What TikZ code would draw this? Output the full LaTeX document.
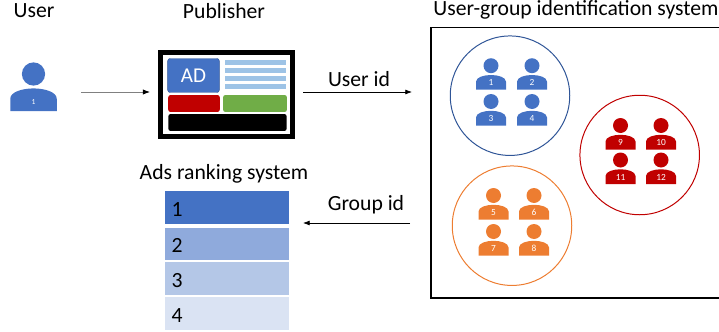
\documentclass[tikz,border=0pt]{standalone}
\usepackage{fontspec}
\setmainfont{Carlito}
\usetikzlibrary{arrows.meta}
\definecolor{adblue}{HTML}{4472C4}
\definecolor{adred}{HTML}{C00000}
\definecolor{adgreen}{HTML}{70AD47}
\definecolor{adorange}{HTML}{ED7D31}
\definecolor{adline}{HTML}{9DC3E6}
\definecolor{rowb}{HTML}{8FAADC}
\definecolor{rowc}{HTML}{B4C7E7}
\definecolor{rowd}{HTML}{DAE3F3}
\definecolor{ringblue}{HTML}{2F5597}
\tikzset{
	title/.style={font=\fontsize{18.5}{22}\selectfont, inner sep=0pt},
	person/.pic={
		\fill (0,0) circle (7.5);
		\fill (-15,24)--(-15,16) .. controls (-15,11.5) and (-7,9.3) .. (0,9.3) .. controls (7,9.3) and (15,11.5) .. (15,16)--(15,24)--cycle;
	},
	num/.style={text=white, font=\fontsize{8}{10}\selectfont, inner sep=0pt},
	ring/.style={circle, draw, line width=0.85pt, minimum size=102pt, inner sep=0pt},
	bar/.style={rectangle, rounded corners=2pt, inner sep=0pt},
	row/.style={rectangle, minimum width=105.4pt, inner sep=0pt, anchor=north west, text height=15pt, text depth=0pt, font=\fontsize{18.5}{22}\selectfont, align=left, text width=94.4pt, inner xsep=5.5pt}
}
\begin{document}
\begin{tikzpicture}[x=0.03cm, y=-0.03cm, >=Latex]
	\useasboundingbox (0,0) rectangle (719,332);
	% titles
	\node[title] (usertitle) at (34,11) {User};
	\node[title] (pubtitle) at (224,11) {Publisher};
	\node[title] (systitle) at (576,10) {User-group identification system};
	\node[title] (adstitle) at (224,174) {Ads ranking system};
	% user
	\pic[adblue, scale=1.55] at (33.5,74) {person};
	\node[num, font=\fontsize{6.5}{8}\selectfont] (user) at (33.5,102) {1};
	% publisher page
	\node[draw, line width=4.2pt, minimum width=112pt, minimum height=72pt, inner sep=0pt] (page) at (226.5,94.5) {};
	\node[bar, fill=adblue, draw=ringblue, minimum width=44pt, minimum height=29pt, text=white, font=\fontsize{18}{22}\selectfont] (ad) at (193.5,75.5) {AD};
	\foreach \y [count=\i] in {62.5,70.5,78.5,86.5}
		\node[fill=adline, minimum width=52pt, minimum height=4.2pt, inner sep=0pt] (line\i) at (255.5,\y) {};
	\node[bar, fill=adred, minimum width=44pt, minimum height=14.5pt] (redbar) at (194,103.5) {};
	\node[bar, fill=adgreen, minimum width=54.5pt, minimum height=14.5pt] (greenbar) at (255,103.5) {};
	\node[bar, fill=black, minimum width=101pt, minimum height=14.5pt] (blackbar) at (227.5,122.5) {};
	% connectors
	\coordinate (userout) at (81,92);
	\coordinate (pagein) at (150,92);
	\coordinate (pageout) at (303,92);
	\coordinate (sysin) at (412,92);
	\coordinate (sysout) at (410,223);
	\coordinate (rankin) at (303,223);
	\draw[->, gray, line width=0.7pt, -{Latex[black]}] (userout)--(pagein);
	\draw[->, line width=0.6pt] (pageout)--(sysin);
	\draw[->, line width=0.6pt] (sysout)--(rankin);
	\node[title] (userlabel) at (359,79) {User id};
	\node[title] (grouplabel) at (366,205) {Group id};
	% ranking table
	\node[row, fill=adblue, minimum height=28.2pt] (rowa) at (165,190.7) {1};
	\node[row, fill=rowb, minimum height=27.6pt] (rowb) at (165,227.6) {2};
	\node[row, fill=rowc, minimum height=28.4pt] (rowc) at (165,261.5) {3};
	\node[row, fill=rowd, minimum height=28.4pt] (rowd) at (165,296.5) {4};
	% identification system
	\draw[line width=1.7pt] (719,27.5)--(431,27.5)--(431,298)--(719,298);
	\node[ring, draw=ringblue] (bluering) at (510,95.7) {};
	\node[ring, draw=adred] (redring) at (639.7,155) {};
	\node[ring, draw=adorange] (orangering) at (512,225.7) {};
	\foreach \x/\y/\c/\n in {
		491/65.7/adblue/1, 532/65.7/adblue/2, 491/101.5/adblue/3, 532/101.5/adblue/4,
		620.5/125.5/adred/9, 661/125.5/adred/10, 620.5/160/adred/11, 661/160/adred/12,
		493.5/195.5/adorange/5, 534/195.5/adorange/6, 493.5/231.5/adorange/7, 534/231.5/adorange/8} {
		\pic[\c] at (\x,\y) {person};
		\node[num] (num\n) at (\x,\y+17) {\n};
	}
\end{tikzpicture}
\end{document}
